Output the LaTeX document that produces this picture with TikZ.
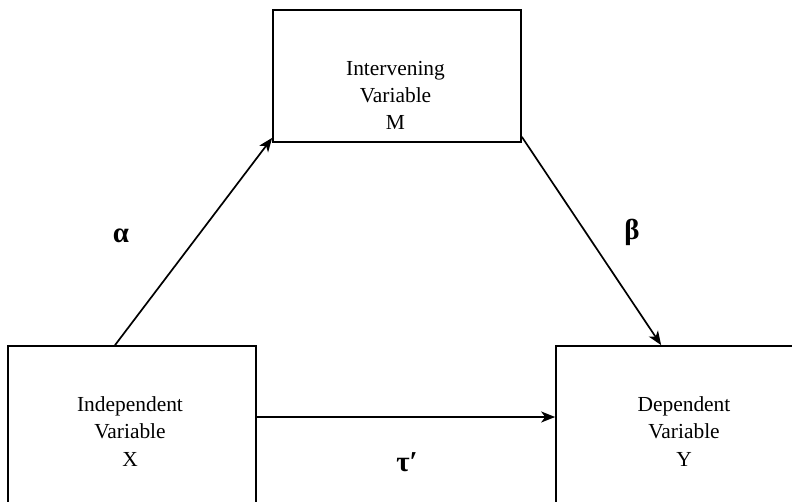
\documentclass[tikz,border=0pt]{standalone}
\usepackage{fontspec}
\setmainfont{Liberation Serif}
\usetikzlibrary{arrows.meta,calc}
\begin{document}
\begin{tikzpicture}[x=1bp,y=-1bp,
  box/.style={draw, line width=1.7bp, inner sep=0pt, rectangle},
  lbl/.style={align=center, inner sep=0pt, font=\fontsize{21.5}{27.5}\selectfont, anchor=base},
  greek/.style={inner sep=0pt, font=\fontsize{29}{32}\selectfont\bfseries, anchor=base},
  arr/.style={line width=1.7bp, -{Stealth[length=14bp,width=11bp,inset=4bp]}}]
\useasboundingbox (0,0) rectangle (792,502);
\node[box, minimum width=248bp, minimum height=132bp] (M) at (397,76) {};
\node[box, minimum width=248bp, minimum height=164bp] (X) at (132,428) {};
\node[box, minimum width=238bp, minimum height=164bp] (Y) at (675,428) {};
\node[lbl] (Mt) at (395.5,130) {Intervening\\Variable\\M};
\node[lbl] (Xt) at (130,466) {Independent\\Variable\\X};
\node[lbl] (Yt) at (684,466) {Dependent\\Variable\\Y};
\node[greek] (a) at (121,243) {α};
\node[greek] (b) at (632,240) {β};
\node[greek] (t) at (407,471) {τ′};
\draw[arr] ($(X.north)+(-17,0)$) -- ($(M.south west)+(0,-5)$);
\draw[arr] ($(M.south east)+(0,-6)$) -- ($(Y.north west)+(106,0)$);
\draw[arr] ($(X.east)+(0,-11)$) -- ($(Y.west)+(0,-11)$);
\end{tikzpicture}
\end{document}
